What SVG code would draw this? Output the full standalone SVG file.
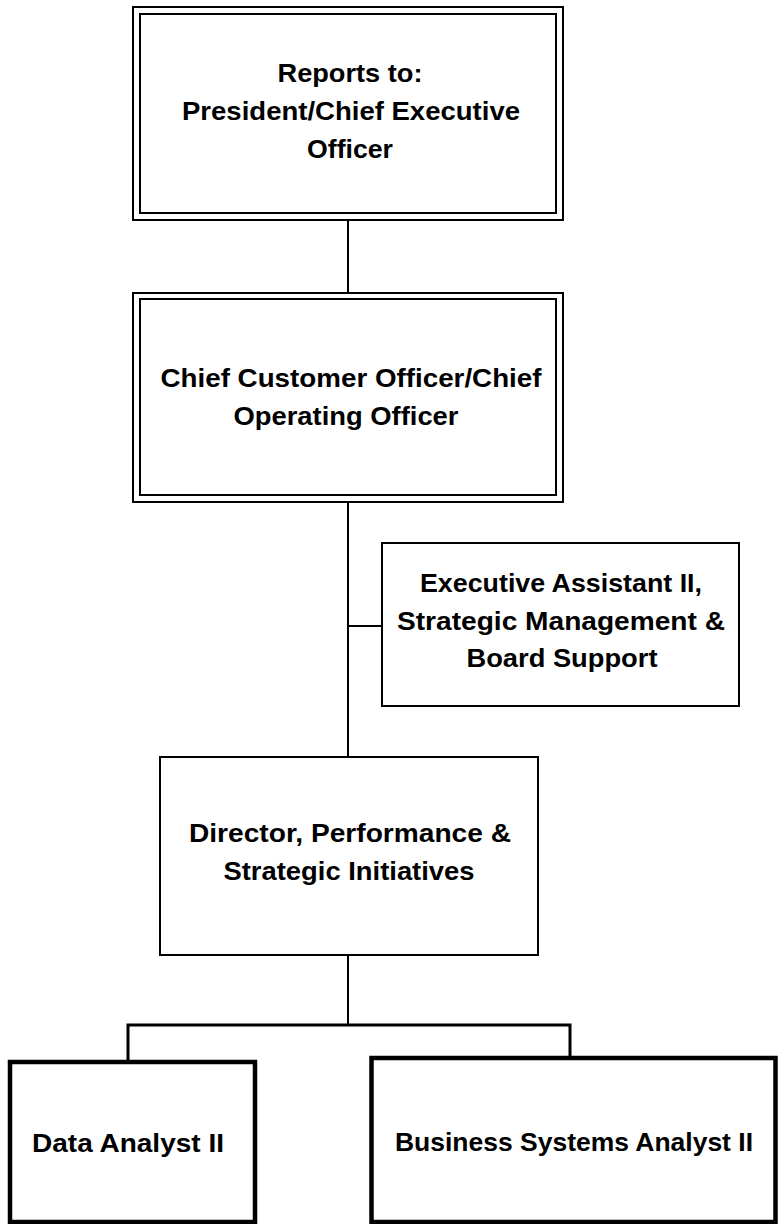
<svg xmlns="http://www.w3.org/2000/svg" width="779" height="1224" viewBox="0 0 779 1224">
<style>
.box{fill:#fff;stroke:#000;stroke-width:2}
.thick{fill:#fff;stroke:#000;stroke-width:4.5}
.ln{fill:none;stroke:#000;stroke-width:2}
text{font-family:"Liberation Sans",Arial,sans-serif;font-weight:bold;font-size:26px;fill:#000;text-anchor:middle}
</style>
<rect width="779" height="1224" fill="#fff"/>
<g id="connectors">
<line class="ln" x1="348" y1="220" x2="348" y2="293"/>
<line class="ln" x1="348" y1="502" x2="348" y2="757"/>
<line class="ln" x1="348" y1="626" x2="382" y2="626"/>
<line class="ln" x1="348" y1="955" x2="348" y2="1025"/>
<polyline class="ln" points="128,1062 128,1025 570,1025 570,1058" style="stroke-width:3"/>
</g>
<g id="n1">
<rect class="box" x="133" y="7" width="430" height="213"/>
<rect class="box" x="140" y="14" width="416" height="199"/>
<text x="350" y="82" textLength="145" lengthAdjust="spacingAndGlyphs">Reports to:</text>
<text x="351" y="120" textLength="338" lengthAdjust="spacingAndGlyphs">President/Chief Executive</text>
<text x="350" y="158" textLength="86" lengthAdjust="spacingAndGlyphs">Officer</text>
</g>
<g id="n2">
<rect class="box" x="133" y="293" width="430" height="209"/>
<rect class="box" x="140" y="299" width="416" height="196"/>
<text x="351" y="387" textLength="381" lengthAdjust="spacingAndGlyphs">Chief Customer Officer/Chief</text>
<text x="346" y="425" textLength="225" lengthAdjust="spacingAndGlyphs">Operating Officer</text>
</g>
<g id="n3">
<rect class="box" x="382" y="543" width="357" height="163"/>
<text x="561" y="592" textLength="282" lengthAdjust="spacingAndGlyphs">Executive Assistant II,</text>
<text x="561" y="630" textLength="328" lengthAdjust="spacingAndGlyphs">Strategic Management &amp;</text>
<text x="562" y="667" textLength="191" lengthAdjust="spacingAndGlyphs">Board Support</text>
</g>
<g id="n4">
<rect class="box" x="160" y="757" width="378" height="198"/>
<text x="350" y="842" textLength="322" lengthAdjust="spacingAndGlyphs">Director, Performance &amp;</text>
<text x="349" y="880" textLength="251" lengthAdjust="spacingAndGlyphs">Strategic Initiatives</text>
</g>
<g id="n5">
<rect class="thick" x="10" y="1062" width="245" height="160"/>
<text x="128" y="1152" textLength="192" lengthAdjust="spacingAndGlyphs">Data Analyst II</text>
</g>
<g id="n6">
<rect class="thick" x="371.5" y="1058" width="404" height="164"/>
<text x="574" y="1151" textLength="358" lengthAdjust="spacingAndGlyphs">Business Systems Analyst II</text>
</g>
</svg>
